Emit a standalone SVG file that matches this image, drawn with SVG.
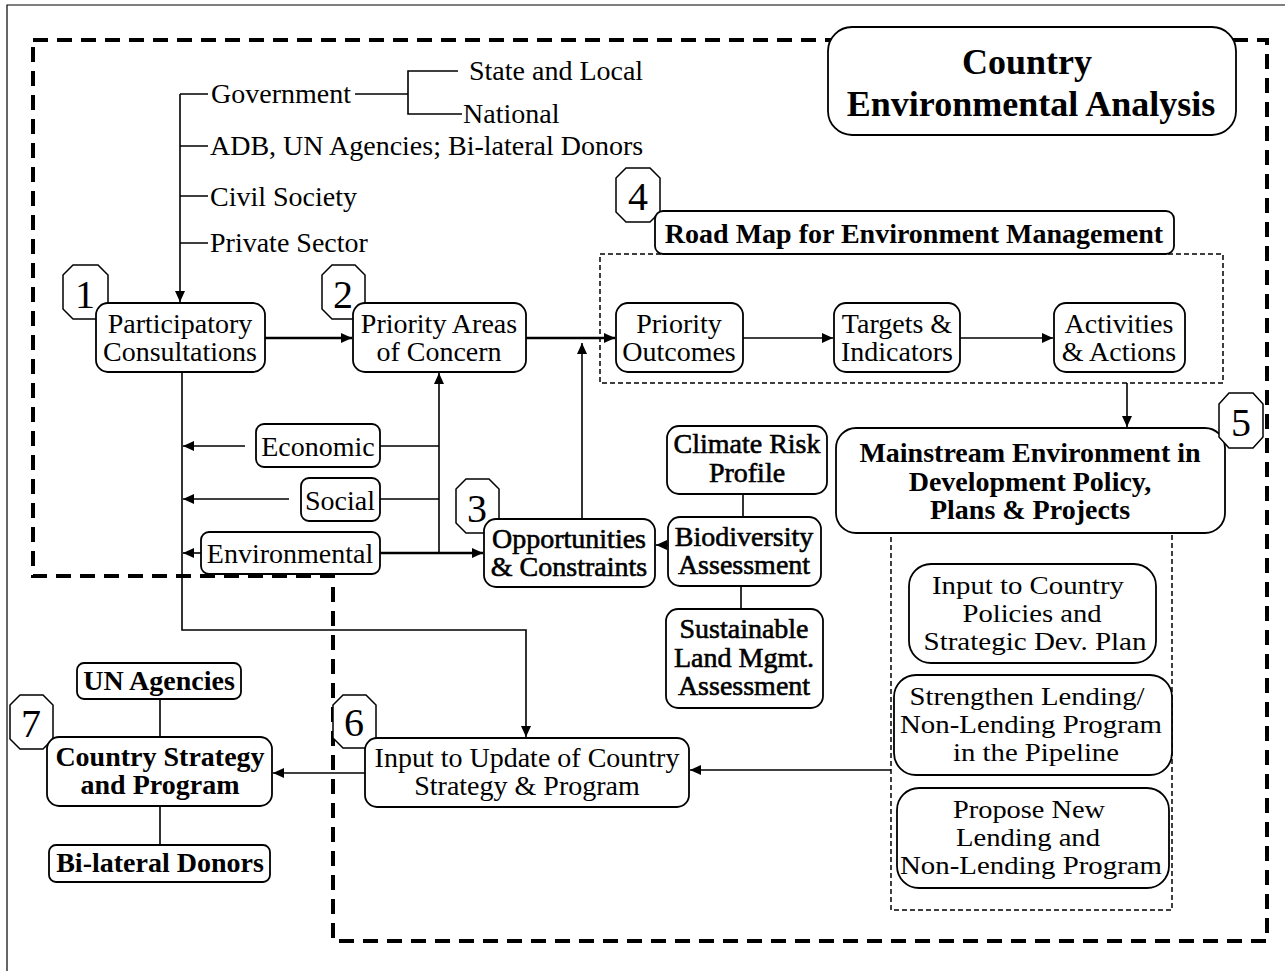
<svg xmlns="http://www.w3.org/2000/svg" width="1285" height="971" viewBox="0 0 1285 971">
<defs>
<style>
text{font-family:"Liberation Serif","Times New Roman",serif;font-size:28px;text-anchor:middle;fill:#000}
.b{font-weight:bold}
.sb{stroke:#000;stroke-width:0.6}
.l{text-anchor:start}
.num{font-size:40px}
.ttl{font-size:36px;font-weight:bold}
.r{font-size:26px}
.box{fill:#fff;stroke:#000;stroke-width:1.8}
.oct{fill:#fff;stroke:#000;stroke-width:1.5}
.c{fill:none;stroke:#000;stroke-width:1.6}
.ct{fill:none;stroke:#000;stroke-width:2.6}
.dash{fill:none;stroke:#000;stroke-width:1.5;stroke-dasharray:5 3}
.big{fill:none;stroke:#000;stroke-width:4;stroke-dasharray:15 9}
</style>
<marker id="a" markerUnits="userSpaceOnUse" markerWidth="11" markerHeight="10" refX="11" refY="5" orient="auto">
<path d="M0,0 L11,5 L0,10 z" fill="#000"/>
</marker>
</defs>
<rect width="1285" height="971" fill="#fff"/>
<path d="M7,971 V5 H1285" fill="none" stroke="#000" stroke-width="1.2"/>
<path class="big" d="M33,40 H1267 V941 H333 V576 H33 Z"/>
<rect class="dash" x="600" y="254" width="623" height="129"/>
<rect class="dash" x="891" y="520" width="281" height="390"/>

<g id="connectors">
<path class="c" d="M180,94 V302" marker-end="url(#a)"/>
<path class="c" d="M180,94 H208 M180,146 H208 M180,196 H208 M180,243 H208"/>
<path class="c" d="M355,94 H408" stroke-width="2.2"/>
<path class="c" d="M458,71 H408 V114 H462"/>
<path class="ct" d="M265,338 H352" marker-end="url(#a)"/>
<path class="ct" d="M526,338 H615" marker-end="url(#a)"/>
<path class="c" d="M582,519 V343" marker-end="url(#a)" stroke-width="2"/>
<path class="c" d="M743,338 H833" marker-end="url(#a)" stroke-width="2"/>
<path class="c" d="M960,338 H1053" marker-end="url(#a)" stroke-width="2"/>
<path class="c" d="M1127,383 V427" marker-end="url(#a)"/>
<path class="c" d="M380,446 H439 M380,499 H439"/>
<path class="c" d="M439,553 V373" marker-end="url(#a)" stroke-width="2"/>
<path class="ct" d="M380,553 H483" marker-end="url(#a)"/>
<path class="c" d="M245,446 H183" marker-end="url(#a)"/>
<path class="c" d="M289,499 H183" marker-end="url(#a)"/>
<path class="c" d="M201,553 H183" marker-end="url(#a)"/>
<path class="c" d="M182,372 V630 H526 V737" marker-end="url(#a)"/>
<path class="c" d="M668,545 H656" marker-end="url(#a)"/>
<path class="c" d="M743,494 V517 M741,586 V609"/>
<path class="c" d="M891,770 H690" marker-end="url(#a)"/>
<path class="c" d="M365,773 H273" marker-end="url(#a)" stroke-width="2"/>
<path class="c" d="M160,699 V737 M160,806 V845"/>
</g>

<g id="stakeholders">
<text class="l" x="211" y="103">Government</text>
<text class="l" x="469" y="80">State and Local</text>
<text class="l" x="463" y="123">National</text>
<text class="l" x="210" y="155">ADB, UN Agencies; Bi-lateral Donors</text>
<text class="l" x="210" y="206">Civil Society</text>
<text class="l" x="210" y="252">Private Sector</text>
</g>

<g id="title">
<rect class="box" x="828" y="27" width="408" height="108" rx="24"/>
<text class="ttl" x="1027" y="74">Country</text>
<text class="ttl" x="1031" y="116">Environmental Analysis</text>
</g>

<g id="n1">
<polygon class="oct" points="73,265 98,265 108,275 108,309 98,319 73,319 63,309 63,275"/>
<text class="num" x="85" y="308">1</text>
<rect class="box" x="96" y="303" width="169" height="69" rx="12"/>
<text x="180" y="333">Participatory</text>
<text x="180" y="361">Consultations</text>
</g>

<g id="n2">
<polygon class="oct" points="332,265 355,265 365,275 365,309 355,319 332,319 322,309 322,275"/>
<text class="num" x="343" y="308">2</text>
<rect class="box" x="353" y="303" width="173" height="69" rx="12"/>
<text x="439" y="333">Priority Areas</text>
<text x="439" y="361">of Concern</text>
</g>

<g id="n4">
<polygon class="oct" points="626,168 650,168 660,178 660,212 650,222 626,222 616,212 616,178"/>
<text class="num" x="638" y="210">4</text>
<rect class="box" x="655" y="211" width="519" height="43" rx="8"/>
<text class="b" x="914" y="243">Road Map for Environment Management</text>
</g>

<g id="outcomes">
<rect class="box" x="616" y="303" width="127" height="69" rx="12"/>
<text x="679" y="333">Priority</text>
<text x="679" y="361">Outcomes</text>
</g>
<g id="targets">
<rect class="box" x="834" y="303" width="126" height="69" rx="12"/>
<text x="897" y="333">Targets &amp;</text>
<text x="897" y="361">Indicators</text>
</g>
<g id="activities">
<rect class="box" x="1054" y="303" width="131" height="69" rx="12"/>
<text x="1119" y="333">Activities</text>
<text x="1119" y="361">&amp; Actions</text>
</g>

<g id="economic">
<rect class="box" x="256" y="424" width="124" height="43" rx="8"/>
<text x="318" y="456">Economic</text>
</g>
<g id="social">
<rect class="box" x="301" y="478" width="79" height="43" rx="8"/>
<text x="340" y="510">Social</text>
</g>
<g id="environmental">
<rect class="box" x="201" y="532" width="179" height="42" rx="8"/>
<text x="290" y="563">Environmental</text>
</g>

<g id="n3">
<polygon class="oct" points="466,479 489,479 499,489 499,523 489,533 466,533 456,523 456,489"/>
<text class="num" x="477" y="522">3</text>
<rect class="box" x="484" y="519" width="171" height="68" rx="12"/>
<text class="sb" x="569" y="548">Opportunities</text>
<text class="sb" x="569" y="576">&amp; Constraints</text>
</g>

<g id="climate">
<rect class="box" x="667" y="426" width="160" height="68" rx="12"/>
<text class="sb" x="747" y="453">Climate Risk</text>
<text class="sb" x="747" y="482">Profile</text>
</g>
<g id="biodiversity">
<rect class="box" x="668" y="517" width="153" height="69" rx="12"/>
<text class="sb" x="744" y="546">Biodiversity</text>
<text class="sb" x="744" y="574">Assessment</text>
</g>
<g id="sustainable">
<rect class="box" x="666" y="609" width="157" height="99" rx="12"/>
<text class="sb" x="744" y="638">Sustainable</text>
<text class="sb" x="744" y="667">Land Mgmt.</text>
<text class="sb" x="744" y="695">Assessment</text>
</g>

<g id="n5">
<rect class="box" x="836" y="428" width="389" height="105" rx="20"/>
<polygon class="oct" points="1229,393 1253,393 1263,404 1263,437 1253,448 1229,448 1219,437 1219,404"/>
<text class="num" x="1241" y="436">5</text>
<text class="b" x="1030" y="462">Mainstream Environment in</text>
<text class="b" x="1030" y="491">Development Policy,</text>
<text class="b" x="1030" y="519">Plans &amp; Projects</text>
</g>

<g id="policies">
<rect class="box" x="909" y="564" width="247" height="99" rx="22"/>
<text class="r" x="1028" y="594" textLength="192" lengthAdjust="spacingAndGlyphs">Input to Country</text>
<text class="r" x="1032" y="622" textLength="139" lengthAdjust="spacingAndGlyphs">Policies and</text>
<text class="r" x="1035" y="650" textLength="223" lengthAdjust="spacingAndGlyphs">Strategic Dev. Plan</text>
</g>
<g id="strengthen">
<rect class="box" x="894" y="675" width="278" height="100" rx="22"/>
<text class="r" x="1027" y="705" textLength="235" lengthAdjust="spacingAndGlyphs">Strengthen Lending/</text>
<text class="r" x="1031" y="733" textLength="262" lengthAdjust="spacingAndGlyphs">Non-Lending Program</text>
<text class="r" x="1036" y="761" textLength="166" lengthAdjust="spacingAndGlyphs">in the Pipeline</text>
</g>
<g id="propose">
<rect class="box" x="897" y="788" width="272" height="100" rx="22"/>
<text class="r" x="1029" y="818" textLength="152" lengthAdjust="spacingAndGlyphs">Propose New</text>
<text class="r" x="1028" y="846" textLength="144" lengthAdjust="spacingAndGlyphs">Lending and</text>
<text class="r" x="1031" y="874" textLength="262" lengthAdjust="spacingAndGlyphs">Non-Lending Program</text>
</g>

<g id="n6">
<polygon class="oct" points="343,695 366,695 376,705 376,738 366,748 343,748 333,738 333,705"/>
<text class="num" x="354" y="736">6</text>
<rect class="box" x="365" y="738" width="324" height="69" rx="12"/>
<text x="527" y="767">Input to Update of Country</text>
<text x="527" y="795">Strategy &amp; Program</text>
</g>

<g id="n7">
<polygon class="oct" points="20,695 43,695 53,705 53,739 43,749 20,749 10,739 10,705"/>
<text class="num" x="31" y="737">7</text>
<rect class="box" x="47" y="737" width="225" height="69" rx="12"/>
<text class="b" x="160" y="766">Country Strategy</text>
<text class="b" x="160" y="794">and Program</text>
</g>
<g id="un">
<rect class="box" x="77" y="663" width="164" height="36" rx="7"/>
<text class="b" x="159" y="690">UN Agencies</text>
</g>
<g id="bilateral">
<rect class="box" x="49" y="845" width="221" height="37" rx="7"/>
<text class="b" x="160" y="872">Bi-lateral Donors</text>
</g>
</svg>
